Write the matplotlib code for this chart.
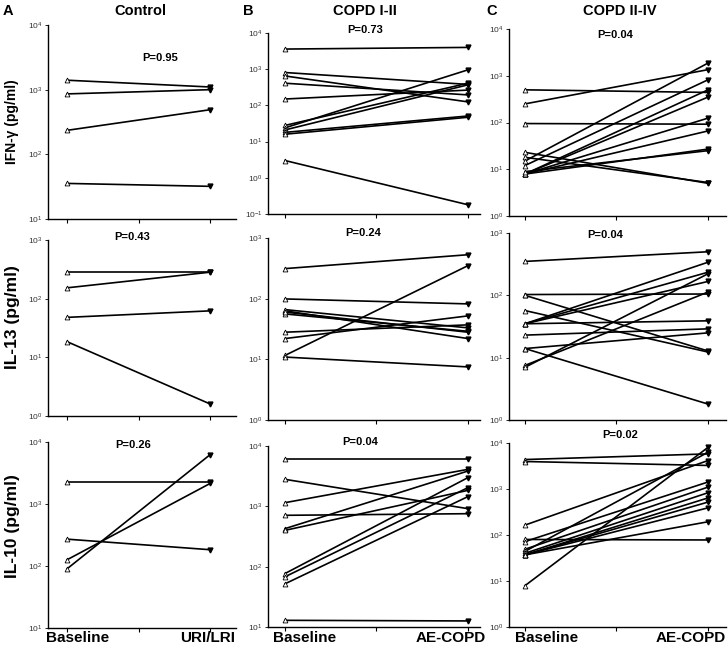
"""
Paired cytokine levels, baseline vs exacerbation, three groups x three cytokines.
"""
import matplotlib
matplotlib.use("Agg")
from matplotlib import pyplot as plt
from matplotlib.ticker import LogLocator, NullLocator, FixedLocator

# ---- data (pg/ml), one list per panel, baseline and follow-up ----
ifn_control_base = [1400, 860, 235, 35.5]
ifn_control_follow = [1100, 1000, 490, 32]
ifn_copd12_base = [3600, 810, 650, 410, 150, 28, 24, 21, 18, 16, 3.0]
ifn_copd12_follow = [4000, 380, 125, 195, 265, 410, 960, 370, 51, 47, 0.18]
ifn_copd24_base = [500, 250, 95, 23, 18, 15, 12, 7.9, 7.9, 7.9, 7.9, 7.9, 8.9]
ifn_copd24_follow = [440, 1350, 92, 5.0, 5.2, 1870, 820, 500, 350, 124, 66, 27, 25]

il13_control_base = [283, 153, 48, 18.5]
il13_control_follow = [283, 283, 62, 1.6]
il13_copd12_base = [313, 99, 63, 66, 56, 60, 28, 22, 11.6, 10.9]
il13_copd12_follow = [530, 82, 22, 33, 29, 28, 37, 52, 350, 7.5]
il13_copd24_base = [350, 103, 100, 57, 35, 35, 35, 35, 23, 14, 14, 7.5, 7.0]
il13_copd24_follow = [500, 105, 12.8, 12.3, 340, 235, 167, 39, 29, 25, 1.8, 113, 222]

il10_control_base = [2280, 271, 126, 90]
il10_control_follow = [2280, 183, 2150, 6270]
il10_copd12_base = [6170, 2800, 1150, 710, 427, 400, 77, 68, 52, 12.9]
il10_copd12_follow = [6170, 915, 4100, 755, 3850, 1840, 2990, 2040, 1450, 12.6]
il10_copd24_base = [4370, 3960, 164, 80, 72, 49, 44, 40, 37, 37, 37, 37, 7.9]
il10_copd24_follow = [5800, 3250, 4160, 78, 1420, 1100, 6300, 830, 640, 520, 390, 194, 8050]

group_titles = ["Control", "COPD I-II", "COPD II-IV"]
panel_letters = ["A", "B", "C"]
row_labels = ["IFN-\u03b3 (pg/ml)", "IL-13 (pg/ml)", "IL-10 (pg/ml)"]
follow_names = ["URI/LRI", "AE-COPD", "AE-COPD"]
p_values = [["P=0.95", "P=0.73", "P=0.04"],
            ["P=0.43", "P=0.24", "P=0.04"],
            ["P=0.26", "P=0.04", "P=0.02"]]

panels = [
    [(ifn_control_base, ifn_control_follow), (ifn_copd12_base, ifn_copd12_follow),
     (ifn_copd24_base, ifn_copd24_follow)],
    [(il13_control_base, il13_control_follow), (il13_copd12_base, il13_copd12_follow),
     (il13_copd24_base, il13_copd24_follow)],
    [(il10_control_base, il10_control_follow), (il10_copd12_base, il10_copd12_follow),
     (il10_copd24_base, il10_copd24_follow)],
]
ylims = [[(1e1, 1e4), (1e-1, 1e4), (1e0, 1e4)],
         [(1e0, 1e3), (1e0, 1e3), (1e0, 1e3)],
         [(1e1, 1e4), (1e1, 1e4), (1e0, 1e4)]]

# ---- layout in pixels ----
W, H = 728, 649
col_x = [(48, 236), (268, 480), (509, 726)]
col_xlim = [(-0.133, 1.18), (-0.093, 1.066), (-0.087, 1.098)]
row_y = [[(25, 219), (33, 214), (29, 216)],
         [(240, 416), (238, 420), (233, 420)],
         [(442, 628), (446, 627), (443, 627)]]
p_pos = [[(160, 58), (365, 30), (615, 35)],
         [(132, 237), (363, 233), (605, 235)],
         [(133, 445), (360, 442), (620, 435)]]
# bottom category labels: (x, ha) for baseline and follow-up
base_lbl = [(78, "center"), (305, "center"), (547, "center")]
follow_lbl = [(208, "center"), (451, "center"), (726, "right")]
# row labels: (x, y, size)
row_lbl = [(12, 122, 10), (13, 317, 12.5), (13, 526, 12.5)]

plt.rcParams["font.family"] = ["Liberation Sans", "DejaVu Sans"]
fig = plt.figure(figsize=(W / 100, H / 100), dpi=100)


def ftext(x, y, s, **kw):
    fig.text(x / W, 1 - y / H, s, **kw)


for r in range(3):
    for c in range(3):
        l, rgt = col_x[c]
        t, b = row_y[r][c]
        ax = fig.add_axes([l / W, 1 - b / H, (rgt - l) / W, (b - t) / H])
        base, follow = panels[r][c]
        for y0, y1 in zip(base, follow):
            ax.plot([0, 1], [y0, y1], color="black", lw=1.2, zorder=2)
        ax.plot([0] * len(base), base, ls="none", marker="^", ms=3.5,
                mfc="white", mec="black", mew=0.6, zorder=3)
        ax.plot([1] * len(follow), follow, ls="none", marker="v", ms=3.5,
                mfc="black", mec="black", zorder=3)
        ax.set_yscale("log")
        ax.set_ylim(*ylims[r][c])
        ax.set_xlim(*col_xlim[c])
        ax.yaxis.set_major_locator(LogLocator(base=10, numticks=10))
        ax.yaxis.set_minor_locator(NullLocator())
        ax.xaxis.set_major_locator(FixedLocator([0, 0.5, 1]))
        ax.set_xticklabels([])
        ax.spines["top"].set_visible(False)
        ax.spines["right"].set_visible(False)
        for s in ("left", "bottom"):
            ax.spines[s].set_linewidth(1.0)
        ax.tick_params(axis="y", length=2, width=0.6, labelsize=6,
                       labelcolor="#333333", pad=2)
        ax.tick_params(axis="x", length=3, width=0.8, direction="out")
        px, py = p_pos[r][c]
        ftext(px, py, p_values[r][c], fontsize=8, fontweight="bold",
              ha="center", va="center")

# bottom category labels
for c in range(3):
    ftext(base_lbl[c][0], 638, "Baseline", fontsize=11, fontweight="bold",
          ha=base_lbl[c][1], va="center")
    ftext(follow_lbl[c][0], 638, follow_names[c], fontsize=11,
          fontweight="bold", ha=follow_lbl[c][1], va="center")

# column titles and panel letters
title_x = [140, 365, 620]
letter_x = [8, 248, 492]
for c in range(3):
    ftext(letter_x[c], 11, panel_letters[c], fontsize=10.5, fontweight="bold",
          ha="center", va="center")
    ftext(title_x[c], 11, group_titles[c], fontsize=10.5, fontweight="bold",
          ha="center", va="center")

# row labels
for r in range(3):
    x, y, size = row_lbl[r]
    ftext(x, y, row_labels[r], fontsize=size, fontweight="bold",
          rotation=90, ha="center", va="center")

fig.savefig("out.png", dpi=100)
plt.close(fig)
